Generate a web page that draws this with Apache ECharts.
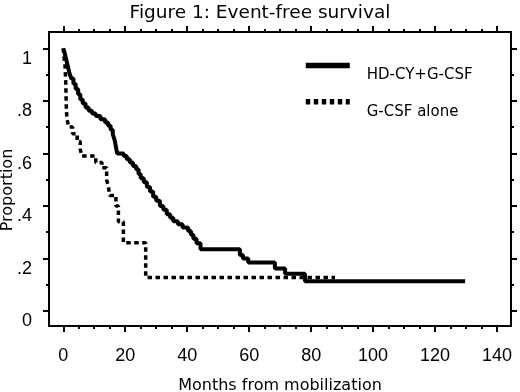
<!DOCTYPE html>
<html><head><meta charset="utf-8">
<script src="https://cdn.jsdelivr.net/npm/echarts@6/dist/echarts.min.js"></script>
<style>html,body{margin:0;padding:0;background:#fff}#c{width:520px;height:392px}</style>
</head><body><div id="c"></div>
<script>
const titleText = 'Figure 1: Event-free survival';
const xAxisName = 'Months from mobilization';
const yAxisName = 'Proportion';
const seriesNames = ['HD-CY+G-CSF', 'G-CSF alone'];

// [month, proportion event-free]
const hdCurve = [
  [0, 1.0], [0.4, 0.985], [0.8, 0.965], [1.2, 0.945], [1.6, 0.925], [2.0, 0.905],
  [2.6, 0.885], [3.3, 0.865], [4.0, 0.845], [4.8, 0.825], [5.5, 0.805], [6.3, 0.79],
  [7.2, 0.775], [8.2, 0.762], [9.3, 0.752], [10.5, 0.742], [12, 0.73], [13.5, 0.718],
  [14.5, 0.705], [15.3, 0.69], [16, 0.672], [16.6, 0.65], [17, 0.625], [17.4, 0.60],
  [19.5, 0.59], [20.5, 0.578], [21.5, 0.565], [22.5, 0.552], [23.5, 0.54], [24.3, 0.522],
  [25, 0.505], [26, 0.49], [27, 0.472], [28, 0.455], [29, 0.435], [30, 0.42],
  [31.2, 0.40], [32.3, 0.385], [33.4, 0.368], [34.5, 0.355], [35.5, 0.342], [37, 0.33],
  [38.5, 0.318], [40.3, 0.305], [41.2, 0.29], [42, 0.275], [43, 0.258], [44.3, 0.235],
  [57, 0.213], [58, 0.2], [59.7, 0.185], [68.3, 0.162], [71.6, 0.142], [78, 0.113],
  [129.7, 0.113]
];
const gCurve = [
  [0, 1.0], [0.3, 0.96], [0.6, 0.93], [0.8, 0.87], [0.9, 0.82], [1.0, 0.77],
  [1.2, 0.73], [1.8, 0.70], [3.0, 0.675], [4.5, 0.645], [5.5, 0.615], [6.0, 0.59],
  [10.5, 0.565], [12.5, 0.545], [14, 0.50], [14.6, 0.47], [15, 0.44], [17, 0.40],
  [17.8, 0.34], [19.4, 0.26], [26.6, 0.128], [87.7, 0.128]
];

const xTickValues = [0, 20, 40, 60, 80, 100, 120, 140];
const xMinorTickValues = [5, 10, 15, 25, 30, 35, 45, 50, 55, 65, 70, 75, 85, 90, 95, 105, 110, 115, 125, 130, 135];
const yTickValues = [0, 0.2, 0.4, 0.6, 0.8, 1];
const yTickLabels = ['0', '.2', '.4', '.6', '.8', '1'];
const yMinorTickValues = [0.1, 0.3, 0.5, 0.7, 0.9];
const xRange = [-4.6, 144.5];
const yRange = [-0.057, 1.062];

const tickFont = "'Liberation Sans', Arial, sans-serif";
const textFont = "'DejaVu Sans', sans-serif";

function xAx(pos, ticks, len, withLabels) {
  const a = {
    type: 'value', position: pos, min: xRange[0], max: xRange[1],
    axisLine: { show: false, onZero: false }, splitLine: { show: false },
    axisTick: { show: true, customValues: ticks, length: len, lineStyle: { color: '#000', width: 2 } },
    axisLabel: { show: false }
  };
  if (withLabels) {
    a.axisLabel = {
      show: true, customValues: ticks, margin: 21, color: '#000',
      fontFamily: tickFont, fontSize: 18,
      formatter: v => String(v)
    };
    a.name = xAxisName;
    a.nameLocation = 'middle';
    a.nameGap = 52;
    a.nameMoveOverlap = false;
    a.nameTextStyle = { fontFamily: textFont, fontSize: 16, color: '#000' };
  }
  return a;
}
function yAx(pos, ticks, len, withLabels) {
  const a = {
    type: 'value', position: pos, min: yRange[0], max: yRange[1],
    axisLine: { show: false, onZero: false }, splitLine: { show: false },
    axisTick: { show: true, customValues: ticks, length: len, lineStyle: { color: '#000', width: 2 } },
    axisLabel: { show: false }
  };
  if (withLabels) {
    a.axisLabel = {
      show: true, customValues: ticks, margin: 17, color: '#000',
      fontFamily: tickFont, fontSize: 18, verticalAlign: 'top', lineHeight: 21,
      formatter: v => {
        const i = yTickValues.findIndex(t => Math.abs(t - v) < 1e-9);
        return i >= 0 ? yTickLabels[i] : '';
      }
    };
    a.name = yAxisName;
    a.nameLocation = 'middle';
    a.nameGap = 33;
    a.nameMoveOverlap = false;
    a.nameTextStyle = { fontFamily: textFont, fontSize: 16, color: '#000', padding: [0, 22, 0, 0] };
  }
  return a;
}

const chart = echarts.init(document.getElementById('c'), null, { renderer: 'canvas' });
chart.setOption({
  animation: false,
  backgroundColor: '#fff',
  title: {
    text: titleText, left: 'center', top: -1,
    textStyle: { fontFamily: textFont, fontSize: 18.5, fontWeight: 'normal', color: '#000' }
  },
  grid: {
    left: 49, right: 9, top: 32, bottom: 66, containLabel: false, outerBoundsMode: 'none',
    show: true, borderColor: '#000', borderWidth: 2, backgroundColor: 'transparent'
  },
  legend: {
    left: 303, top: 60, orient: 'vertical', padding: 0,
    itemWidth: 44, itemHeight: 14, itemGap: 13,
    data: seriesNames,
    lineStyle: { width: 5.5 },
    itemStyle: { color: 'rgba(0,0,0,0)', borderColor: 'rgba(0,0,0,0)', borderWidth: 0, opacity: 0 },
    formatter: name => '{n|' + name + '}',
    textStyle: {
      fontFamily: textFont, fontSize: 15, color: '#000',
      rich: { n: { fontFamily: textFont, fontSize: 15, color: '#000', padding: [20, 0, 0, 12] } }
    }
  },
  xAxis: [
    xAx('bottom', xTickValues, 6, true),
    xAx('bottom', xMinorTickValues, 3, false),
    xAx('top', xTickValues, 6, false),
    xAx('top', xMinorTickValues, 3, false)
  ],
  yAxis: [
    yAx('left', yTickValues, 6, true),
    yAx('left', yMinorTickValues, 3, false),
    yAx('right', yTickValues, 6, false),
    yAx('right', yMinorTickValues, 3, false)
  ],
  series: [
    {
      name: seriesNames[0], type: 'line', step: 'end', symbol: 'none', data: hdCurve,
      xAxisIndex: 0, yAxisIndex: 0,
      lineStyle: { color: '#000', width: 4 }, itemStyle: { color: '#000' }
    },
    {
      name: seriesNames[1], type: 'line', step: 'end', symbol: 'none', data: gCurve,
      xAxisIndex: 0, yAxisIndex: 0,
      lineStyle: { color: '#000', width: 3.5, type: [4.5, 3.5] }, itemStyle: { color: '#000' }
    }
  ]
});
</script></body></html>
